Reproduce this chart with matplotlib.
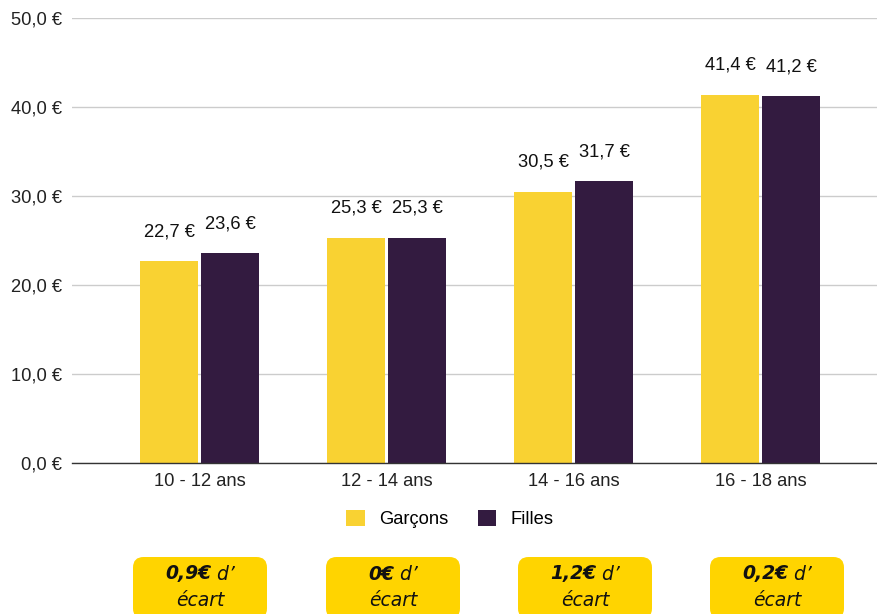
import numpy as np
import matplotlib
matplotlib.use("Agg")
import matplotlib.pyplot as plt
from matplotlib.patches import FancyBboxPatch

# Data
groups = ["10 - 12 ans", "12 - 14 ans", "14 - 16 ans", "16 - 18 ans"]
garcons = [22.7, 25.3, 30.5, 41.4]
filles = [23.6, 25.3, 31.7, 41.2]
ecarts = ["0,9€", "0€", "1,2€", "0,2€"]
yticks = [0, 10, 20, 30, 40, 50]

YELLOW = "#F9D232"
PURPLE = "#331B40"
BOX = "#FFD400"
FS = 13.2

plt.rcParams['font.family'] = ['Liberation Sans', 'DejaVu Sans']

fig = plt.figure(figsize=(8.78, 6.14), dpi=100)
ax = fig.add_axes([72 / 878, 1 - 463 / 614, 1 - 72 / 878, (463 - 18) / 614])

x = np.arange(len(groups))
w = 0.31
gap = 0.008
b1 = ax.bar(x - w / 2 - gap, garcons, w, color=YELLOW, label="Garçons", zorder=3)
b2 = ax.bar(x + w / 2 + gap, filles, w, color=PURPLE, label="Filles", zorder=3)

def fmt(v):
    return f"{v:.1f}".replace(".", ",") + " €"

for bars, vals in [(b1, garcons), (b2, filles)]:
    for r, v in zip(bars, vals):
        ax.annotate(fmt(v), (r.get_x() + r.get_width() / 2, v),
                    xytext=(0, 15), textcoords="offset points",
                    ha="center", va="bottom", fontsize=FS, color="#111111")

ax.set_ylim(0, 50)
ax.set_xlim(-0.682, 3.628)
ax.set_yticks(yticks)
ax.set_yticklabels([fmt(v) for v in yticks], fontsize=FS, color="#222222")
ax.set_xticks(x)
ax.set_xticklabels(groups, fontsize=FS, color="#222222")
ax.tick_params(axis="y", length=0, pad=7)
ax.tick_params(axis="x", length=0, pad=7)
ax.grid(axis="y", color="#CCCCCC", linewidth=1, zorder=0)
for s in ["top", "right", "left"]:
    ax.spines[s].set_visible(False)
ax.spines["bottom"].set_color("#333333")
ax.spines["bottom"].set_linewidth(1)
ax.spines["bottom"].set_zorder(4)

ax.legend(loc="center", bbox_to_anchor=(450 / 878, 1 - 519 / 614),
          bbox_transform=fig.transFigure, ncol=2, frameon=False,
          fontsize=FS, handlelength=1.0, handleheight=1.0,
          columnspacing=1.6, handletextpad=0.8)

# "écart" boxes under the chart
fig.canvas.draw()
renderer = fig.canvas.get_renderer()
centers_px = [200, 393, 585, 777]
BF = ["DejaVu Sans"]
for cx, e in zip(centers_px, ecarts):
    bw, bh = 134, 62
    box = FancyBboxPatch(((cx - bw / 2) / 878, 1 - (557 + bh) / 614),
                         bw / 878, bh / 614,
                         boxstyle="round,pad=0,rounding_size=0.012",
                         transform=fig.transFigure, facecolor=BOX,
                         edgecolor="none", mutation_aspect=878 / 614)
    fig.add_artist(box)
    t1 = fig.text(0, 0, e, fontsize=13.5, fontweight="bold", style="italic",
                  family=BF, color="#111111")
    t2 = fig.text(0, 0, " d’", fontsize=13.5, style="italic",
                  family=BF, color="#111111")
    w1 = t1.get_window_extent(renderer).width
    w2 = t2.get_window_extent(renderer).width
    start = cx - (w1 + w2) / 2
    yline = 1 - 574 / 614
    t1.set_position((start / 878, yline))
    t1.set_va("center")
    t2.set_position(((start + w1) / 878, yline))
    t2.set_va("center")
    fig.text(cx / 878, 1 - 600 / 614, "écart", fontsize=13.5, style="italic",
             family=BF, color="#111111", ha="center", va="center")

fig.savefig("out.png", dpi=100)
